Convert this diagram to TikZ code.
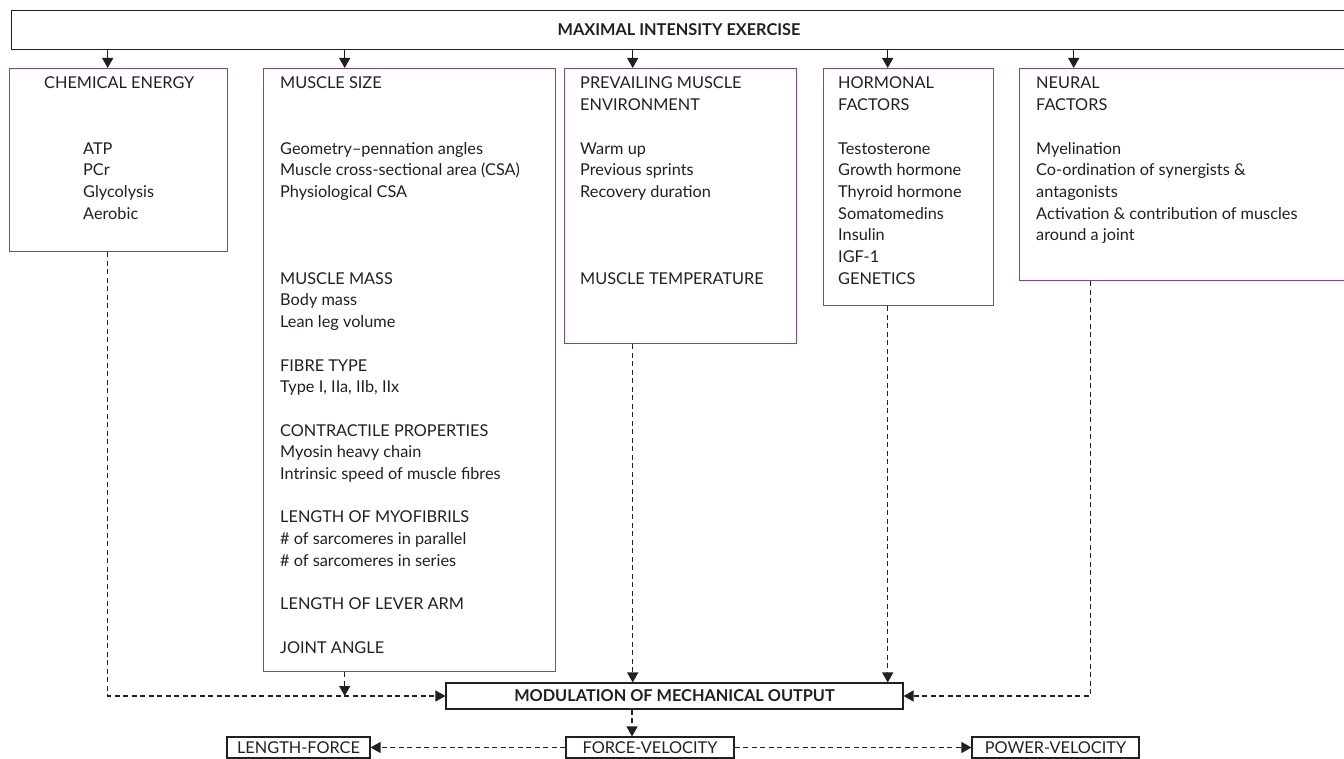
\documentclass[tikz,border=0pt]{standalone}
\usepackage{fontspec}
\setmainfont{Lato}
\usetikzlibrary{arrows.meta,calc}
\definecolor{boxpurple}{RGB}{136,66,150}
\definecolor{ink}{RGB}{35,31,32}
\newcommand{\figfont}{\fontsize{16.3}{21.7}\selectfont}
\newcommand{\stack}[1]{\begin{tabular}[t]{@{}l@{}}#1\end{tabular}}

\begin{document}
\begin{tikzpicture}[x=1pt,y=-1pt,
  every node/.style={text=ink,font=\figfont},
  purplebox/.style={draw=boxpurple,line width=1.4pt,rectangle,inner sep=0pt,anchor=north west},
  plainbox/.style={draw=ink,line width=1.1pt,rectangle,inner sep=0pt},
  textblock/.style={anchor=base west,inner sep=0pt},
  solidarrow/.style={draw=ink,line width=1.2pt,-{Triangle[length=10pt,width=11pt]}},
  dasharrow/.style={solidarrow,dash pattern=on 5pt off 3.5pt}]

\useasboundingbox (0,0) rectangle (1344,759);
\clip (0,0) rectangle (1344,759);

% header
\node[plainbox,anchor=north west,minimum width=1335pt,minimum height=39pt] (top) at (11,10) {};
\node[font=\figfont\bfseries] (toptitle) at (679,29.5) {MAXIMAL INTENSITY EXERCISE};

% factor boxes
\node[purplebox,minimum width=218pt,minimum height=183pt] (chem) at (9,68) {};
\node[purplebox,minimum width=292pt,minimum height=603pt] (size) at (263,68) {};
\node[purplebox,minimum width=232pt,minimum height=275pt] (prev) at (564,68) {};
\node[purplebox,minimum width=170pt,minimum height=237pt] (horm) at (823,68) {};
\node[purplebox,minimum width=327pt,minimum height=212pt] (neur) at (1019,68) {};

% box contents
\node[textblock] (chemtitle) at (44,89) {CHEMICAL ENERGY};
\node[textblock] (chemitems) at (83,154.1) {\stack{ATP\\ PCr\\ Glycolysis\\ Aerobic}};

\node[textblock] (sizetext) at (280,89) {\stack{MUSCLE SIZE\\ \\ \\
Geometry--pennation angles\\
Muscle cross-sectional area (CSA)\\
Physiological CSA\\ \\ \\ \\
MUSCLE MASS\\
Body mass\\
Lean leg volume\\ \\
FIBRE TYPE\\
Type I, IIa, IIb, IIx\\ \\
CONTRACTILE PROPERTIES\\
Myosin heavy chain\\
Intrinsic speed of muscle fibres\\ \\
LENGTH OF MYOFIBRILS\\
\# of sarcomeres in parallel\\
\# of sarcomeres in series\\ \\
LENGTH OF LEVER ARM\\ \\
JOINT ANGLE}};

\node[textblock] (prevtext) at (580,89) {\stack{PREVAILING MUSCLE\\
ENVIRONMENT\\ \\
Warm up\\
Previous sprints\\
Recovery duration\\ \\ \\ \\
MUSCLE TEMPERATURE}};

\node[textblock] (hormtext) at (838,89) {\stack{HORMONAL\\
FACTORS\\ \\
Testosterone\\
Growth hormone\\
Thyroid hormone\\
Somatomedins\\
Insulin\\
IGF-1\\
GENETICS}};

\node[textblock] (neurtext) at (1036,89) {\stack{NEURAL\\
FACTORS\\ \\
Myelination\\
Co-ordination of synergists \&\\
antagonists\\
Activation \& contribution of muscles\\
around a joint}};

% output boxes
\node[plainbox,minimum width=457pt,minimum height=26pt,font=\figfont\bfseries] (mod) at (674.5,696) {MODULATION OF MECHANICAL OUTPUT};
\node[plainbox,minimum width=143pt,minimum height=21pt] (lf) at (298.5,747.5) {LENGTH-FORCE};
\node[plainbox,minimum width=168pt,minimum height=21pt] (fv) at (650,747.5) {FORCE-VELOCITY};
\node[plainbox,minimum width=167pt,minimum height=21pt] (pv) at (1055.5,747.5) {POWER-VELOCITY};

% header arrows
\draw[solidarrow] ([xshift=-11pt]chem.north |- top.south) -- ([xshift=-11pt]chem.north);
\draw[solidarrow] ([xshift=-65pt]size.north |- top.south) -- ([xshift=-65pt]size.north);
\draw[solidarrow] ([xshift=-48pt]prev.north |- top.south) -- ([xshift=-48pt]prev.north);
\draw[solidarrow] ([xshift=-21pt]horm.north |- top.south) -- ([xshift=-21pt]horm.north);
\draw[solidarrow] ([xshift=-109.5pt]neur.north |- top.south) -- ([xshift=-109.5pt]neur.north);

% dashed connectors into the modulation box
\draw[dasharrow] ([xshift=-11pt]chem.south) |- (mod.west);
\draw[dasharrow] ([xshift=-65pt]size.south) -- ([xshift=-65pt]size.south |- mod.west);
\draw[dasharrow] ([xshift=-48pt]prev.south) -- ([xshift=-48pt]prev.south |- mod.north);
\draw[dasharrow] ([xshift=-21pt]horm.south) -- ([xshift=-21pt]horm.south |- mod.north);
\draw[dasharrow] ([xshift=-92.5pt]neur.south) |- (mod.east);

% relationships
\draw[dasharrow] ([xshift=-42.5pt]mod.south) -- ([xshift=-42.5pt]mod.south |- fv.north);
\draw[dasharrow] (fv.west) -- (lf.east);
\draw[dasharrow] (fv.east) -- (pv.west);
\end{tikzpicture}
\end{document}
